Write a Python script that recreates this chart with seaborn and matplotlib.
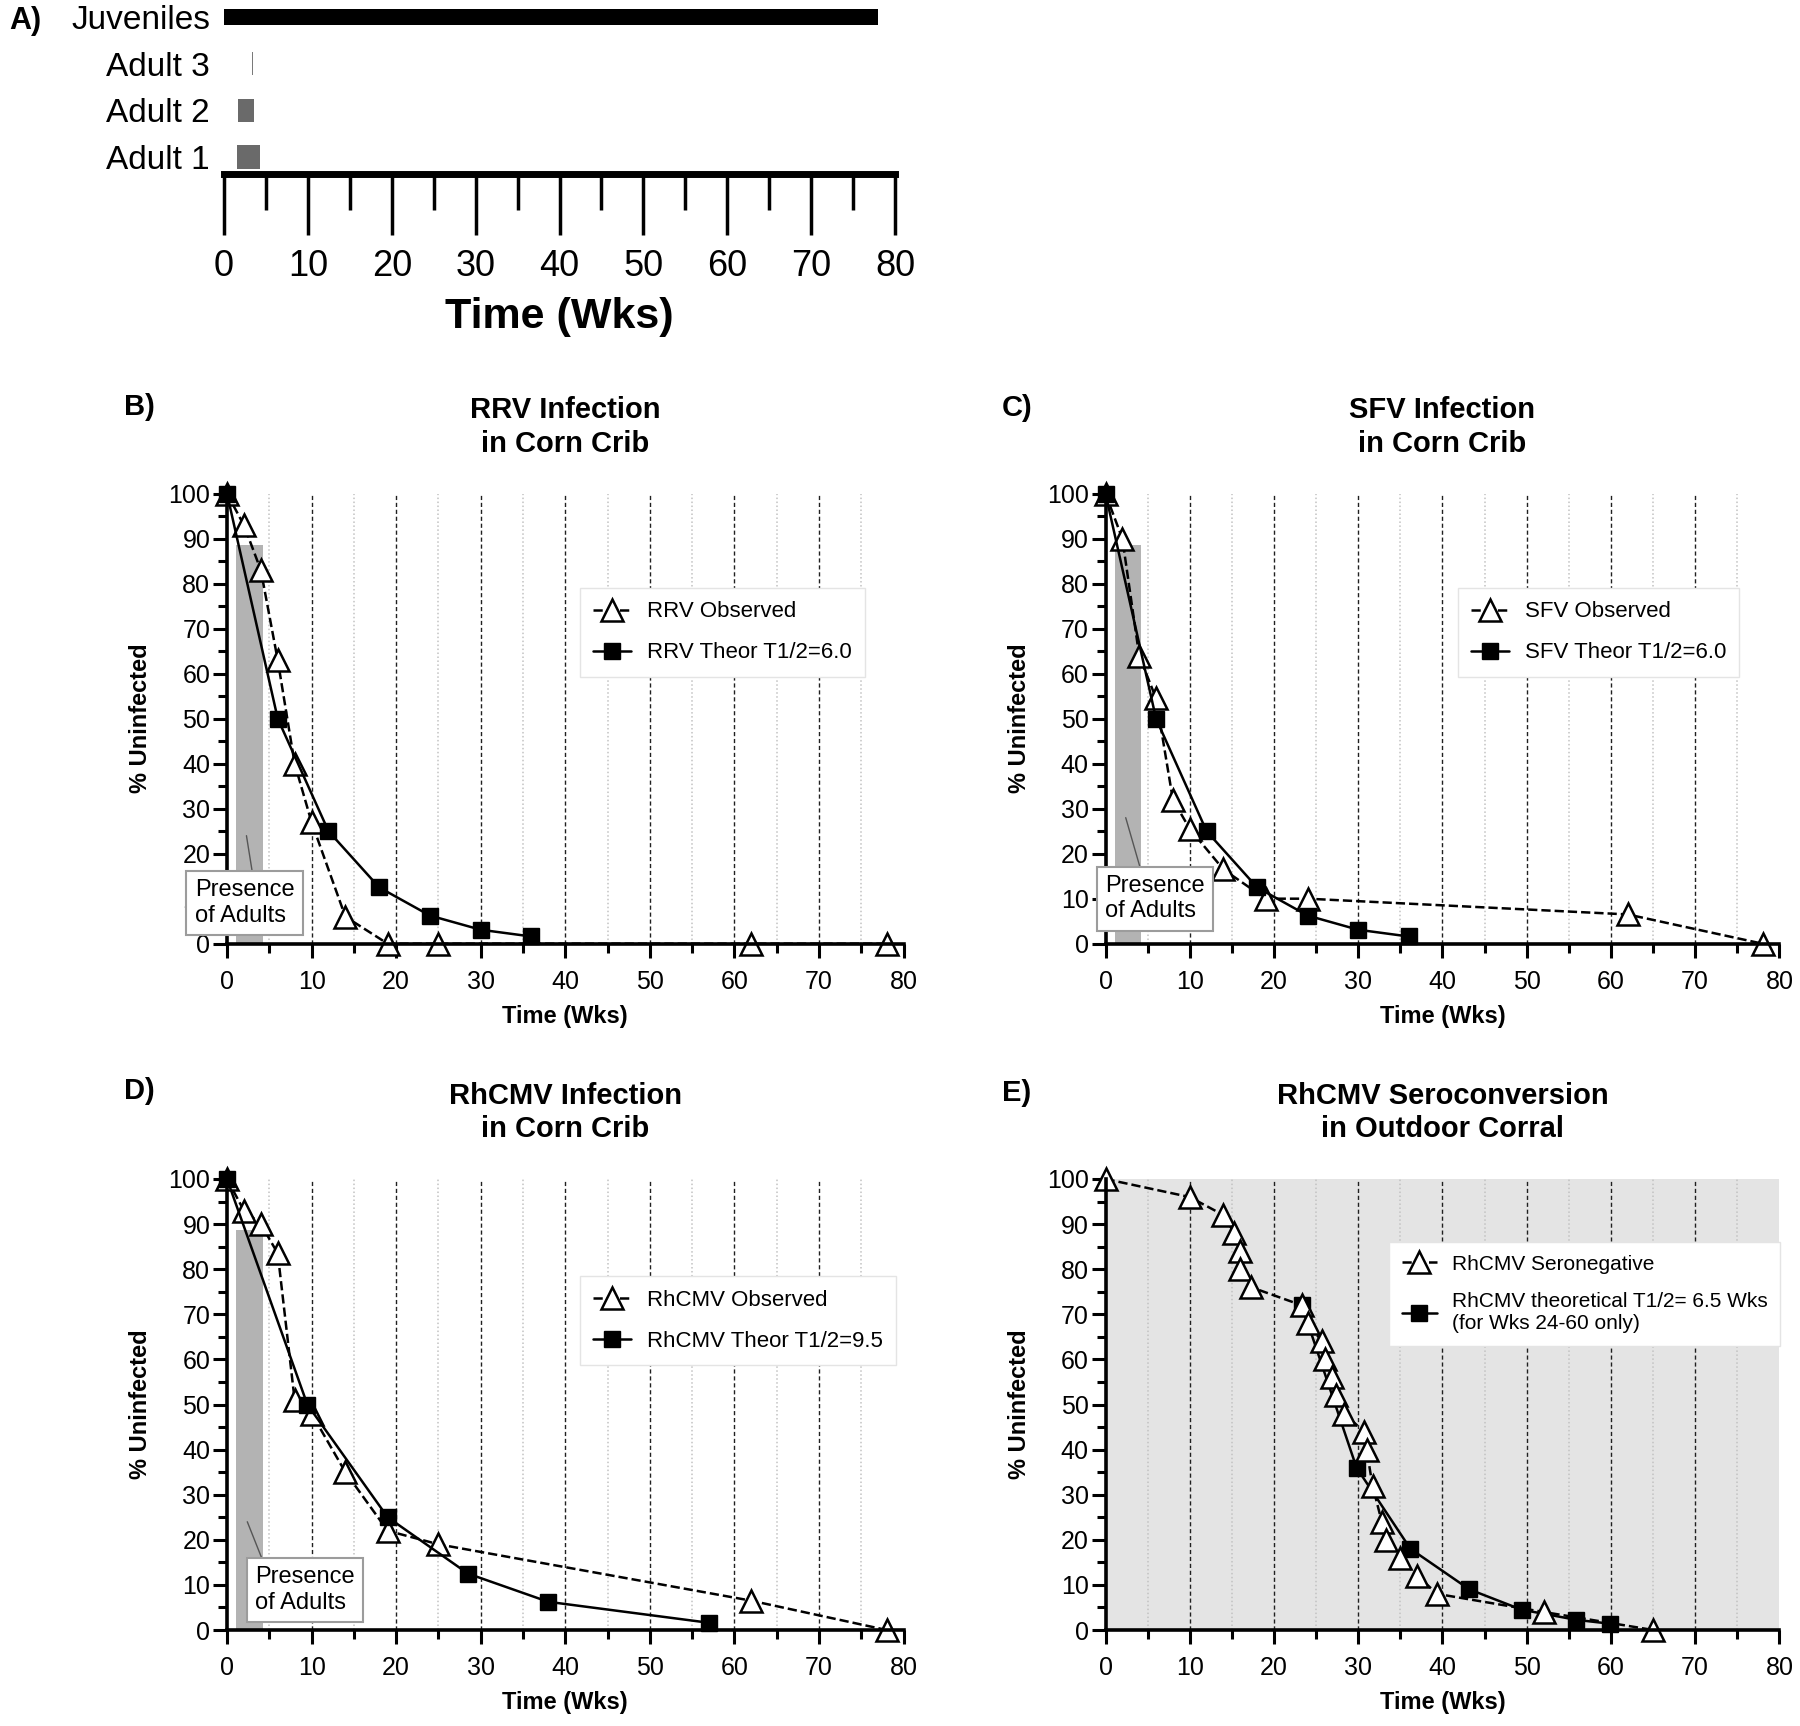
import numpy as np
import matplotlib
matplotlib.use("Agg")
import matplotlib.pyplot as plt
from matplotlib.ticker import MultipleLocator
import seaborn as sns

# ---------------- data ----------------
# Panel A: presence timeline (weeks)
groups = ["Adult 1", "Adult 2", "Adult 3", "Juveniles"]
start_wk = [1.5, 1.7, 3.3, 0.0]
end_wk = [4.3, 3.6, 3.5, 78.0]

# Presence of adults shading (weeks, % height)
adult_start = 1.1
adult_end = 4.2
adult_top = 88.6

# Panel B: RRV
rrv_obs_wk = [0, 2, 4, 6, 8, 10, 14, 19, 25, 62, 78]
rrv_obs_pct = [100, 93, 83, 63, 40, 27, 6, 0, 0, 0, 0]
rrv_th_wk = [0, 6, 12, 18, 24, 30, 36]
rrv_th_pct = [100, 50, 25, 12.5, 6.25, 3.1, 1.6]

# Panel C: SFV
sfv_obs_wk = [0, 2, 4, 6, 8, 10, 14, 19, 24, 62, 78]
sfv_obs_pct = [100, 90, 64, 54.5, 32, 25.5, 16.5, 10, 10, 6.5, 0]
sfv_th_wk = [0, 6, 12, 18, 24, 30, 36]
sfv_th_pct = [100, 50, 25, 12.5, 6.25, 3.1, 1.6]

# Panel D: RhCMV corn crib
cmv_obs_wk = [0, 2, 4, 6, 8, 10, 14, 19, 25, 62, 78]
cmv_obs_pct = [100, 93, 90, 83.5, 51, 48, 35, 22, 19, 6.5, 0]
cmv_th_wk = [0, 9.5, 19, 28.5, 38, 57]
cmv_th_pct = [100, 50, 25, 12.5, 6.25, 1.6]

# Panel E: RhCMV seroconversion outdoor corral
sero_obs_wk = [0, 10, 14, 15.3, 16, 16, 17.3, 23.3, 24, 25.7, 26, 26.9, 27.4,
               28.3, 30.7, 31, 31.7, 32.8, 33.3, 35, 37, 39.4, 52, 65]
sero_obs_pct = [100, 96, 92, 88, 84, 80, 76, 72, 68, 64, 60, 56, 52,
                48, 44, 40, 32, 24, 20, 16, 12, 8, 4, 0]
sero_th_wk = [23.3, 29.8, 36.2, 43.2, 49.4, 55.9, 59.9]
sero_th_pct = [72, 36, 18, 9, 4.5, 2.25, 1.4]

# ---------------- style ----------------
sns.set_theme(style="ticks", rc={
    "text.color": "black", "axes.labelcolor": "black",
    "xtick.color": "black", "ytick.color": "black",
    "axes.edgecolor": "black",
})
plt.rcParams["font.family"] = ["Liberation Sans", "DejaVu Sans"]

W, H = 1800, 1726
fig = plt.figure(figsize=(W / 100, H / 100), dpi=100)


def rect(l, r, top, bottom):
    return [l / W, 1 - bottom / H, (r - l) / W, (bottom - top) / H]


# ---------------- Panel A ----------------
axA = fig.add_axes(rect(224, 895, 4, 174.5))
pos = np.arange(len(groups))
widths = np.array(end_wk) - np.array(start_wk)
axA.barh(pos, widths, left=start_wk, height=[0.5, 0.5, 0.5, 0.36],
         color=["#6a6a6a", "#6a6a6a", "#7a7a7a", "black"], linewidth=0)
axA.set_yticks(pos, groups)
axA.set_ylim(-0.375, 3.28)
axA.set_xlim(0, 80)
for s in ["left", "top", "right"]:
    axA.spines[s].set_visible(False)
axA.spines["bottom"].set_linewidth(5)
axA.xaxis.set_major_locator(MultipleLocator(10))
axA.xaxis.set_minor_locator(MultipleLocator(5))
axA.tick_params(axis="x", which="major", length=44, width=2.5, labelsize=26, pad=10)
axA.tick_params(axis="x", which="minor", length=26, width=2.5)
axA.tick_params(axis="y", length=0, labelsize=24, pad=10)
axA.set_xlabel("Time (Wks)", fontsize=31, fontweight="bold")
axA.xaxis.set_label_coords(0.5, -0.72)
fig.text(9 / W, 1 - 21 / H, "A)", fontsize=22, fontweight="bold", va="center", ha="left")


# ---------------- Panels B-E ----------------
def draw_panel(ax, letter, letter_xy, title, obs_wk, obs_pct, obs_label,
               th_wk, th_pct, th_label, legend_anchor, legend_fs,
               adults_box=None, shaded=False, obs_on_top=False):
    ax.set_facecolor("#e4e4e4" if shaded else "white")
    for x in range(5, 80, 10):
        ax.axvline(x, color="#c2c2c2", lw=1.1, ls=(0, (1, 1.6)), zorder=0.5)
    for x in range(10, 80, 10):
        ax.axvline(x, color="#202020", lw=1.0, ls=(0, (3, 2)), zorder=0.6)

    if adults_box is not None:
        ax.bar(adult_start, adult_top, width=adult_end - adult_start, align="edge",
               color="#b3b3b3", linewidth=0, zorder=1)

    z_obs, z_th = (4, 3) if obs_on_top else (3, 4)
    sns.lineplot(x=obs_wk, y=obs_pct, ax=ax, color="black", lw=1.8, linestyle="--",
                 marker="^", markersize=16, markerfacecolor="white",
                 markeredgecolor="black", markeredgewidth=1.8, sort=False,
                 estimator=None, label=obs_label, clip_on=False, zorder=z_obs)
    sns.lineplot(x=th_wk, y=th_pct, ax=ax, color="black", lw=1.8, linestyle="-",
                 marker="s", markersize=12, markerfacecolor="black",
                 markeredgecolor="black", markeredgewidth=1.0, sort=False,
                 estimator=None, label=th_label, clip_on=False, zorder=z_th)

    ax.set_xlim(0, 80)
    ax.set_ylim(0, 100)
    ax.xaxis.set_major_locator(MultipleLocator(10))
    ax.xaxis.set_minor_locator(MultipleLocator(5))
    ax.yaxis.set_major_locator(MultipleLocator(10))
    ax.yaxis.set_minor_locator(MultipleLocator(5))
    ax.tick_params(which="major", length=10, width=2.2, labelsize=18)
    ax.tick_params(which="minor", length=6.5, width=2.2)
    ax.tick_params(axis="x", which="major", pad=9)
    ax.tick_params(axis="y", which="major", pad=2)
    for s in ["top", "right"]:
        ax.spines[s].set_visible(False)
    for s in ["left", "bottom"]:
        ax.spines[s].set_linewidth(2.6)
        ax.spines[s].set_zorder(5)

    ax.set_xlabel("Time (Wks)", fontsize=17, fontweight="bold")
    ax.xaxis.set_label_coords(0.5, -0.136)
    ax.set_ylabel("% Uninfected", fontsize=17, fontweight="bold")
    ax.yaxis.set_label_coords(-0.111, 0.5)

    ax.text(0.5, 1.148, title, transform=ax.transAxes, ha="center", va="center",
            fontsize=21, fontweight="bold", linespacing=1.25)
    fig.text(letter_xy[0] / W, 1 - letter_xy[1] / H, letter, fontsize=21,
             fontweight="bold", ha="left", va="center")

    leg = ax.legend(loc="upper left", bbox_to_anchor=legend_anchor, borderaxespad=0,
                    fontsize=legend_fs, frameon=True, fancybox=False,
                    edgecolor="#e4e4e4", facecolor="white", framealpha=1,
                    handlelength=1.7, handletextpad=0.7, labelspacing=0.9,
                    borderpad=0.6)
    leg.get_frame().set_linewidth(1.0)
    leg.set_zorder(6)

    if adults_box is not None:
        (tx, ty), (px, py), rel = adults_box
        ax.annotate("Presence\nof Adults", xy=(px, py), xytext=(tx, ty),
                    textcoords="data", ha="center", va="center",
                    multialignment="left", fontsize=17, zorder=7,
                    annotation_clip=False,
                    bbox=dict(boxstyle="square,pad=0.35", fc="white",
                              ec="#9c9c9c", lw=1.5),
                    arrowprops=dict(arrowstyle="-", color="#555555", lw=1.0,
                                    relpos=rel, shrinkA=0, shrinkB=0))


axB = fig.add_axes(rect(227, 903.5, 493.6, 943.7))
axC = fig.add_axes(rect(1105.5, 1779.4, 493.6, 943.7))
axD = fig.add_axes(rect(227, 903.5, 1179, 1630))
axE = fig.add_axes(rect(1105.5, 1779.4, 1179, 1630))

draw_panel(axB, "B)", (124, 407), "RRV Infection\nin Corn Crib",
           rrv_obs_wk, rrv_obs_pct, "RRV Observed",
           rrv_th_wk, rrv_th_pct, "RRV Theor T1/2=6.0",
           (0.522, 0.790), 16,
           adults_box=((2.07, 9.0), (2.3, 24), (0.59, 1.0)))
draw_panel(axC, "C)", (1002, 408), "SFV Infection\nin Corn Crib",
           sfv_obs_wk, sfv_obs_pct, "SFV Observed",
           sfv_th_wk, sfv_th_pct, "SFV Theor T1/2=6.0",
           (0.523, 0.790), 16,
           adults_box=((5.9, 10.0), (2.4, 28), (0.37, 1.0)))
draw_panel(axD, "D)", (124, 1091), "RhCMV Infection\nin Corn Crib",
           cmv_obs_wk, cmv_obs_pct, "RhCMV Observed",
           cmv_th_wk, cmv_th_pct, "RhCMV Theor T1/2=9.5",
           (0.522, 0.784), 16,
           adults_box=((9.2, 8.9), (2.4, 24), (0.1, 1.0)))
draw_panel(axE, "E)", (1002, 1093), "RhCMV Seroconversion\nin Outdoor Corral",
           sero_obs_wk, sero_obs_pct, "RhCMV Seronegative",
           sero_th_wk, sero_th_pct, "RhCMV theoretical T1/2= 6.5 Wks\n(for Wks 24-60 only)",
           (0.421, 0.860), 15, adults_box=None, shaded=True, obs_on_top=True)

fig.savefig("out.png", dpi=100)
